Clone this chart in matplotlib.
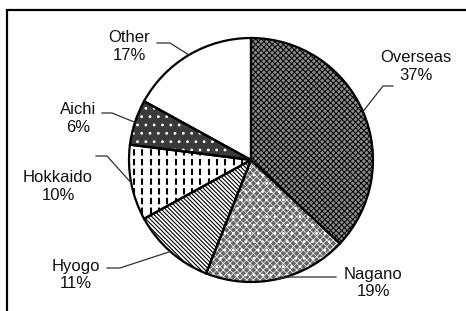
import numpy as np
import matplotlib.pyplot as plt
from matplotlib.patches import Wedge
from matplotlib.collections import LineCollection

plt.rcParams['lines.scale_dashes'] = False

# data
names = ['Overseas', 'Nagano', 'Hyogo', 'Hokkaido', 'Aichi', 'Other']
shares = [37, 19, 11, 10, 6, 17]

# fill styles
faces = ['#8a8a8a', '#666666', 'white', 'white', '#3a3a3a', 'white']

# label layout (pixel coords, y from top)
label_pos = [(416, 66), (373, 283), (76, 275), (58, 186), (78, 118), (129, 47)]
elbows = [(383, 86), (290, 277), (120, 268), (107, 156), (112, 113), (170, 43)]
ends = [(393, 86), (336, 277), (107, 268), (96, 156), (102, 113), (157, 43)]

W, H = 466, 311
fig = plt.figure(figsize=(4.66, 3.11), dpi=100)
ax = fig.add_axes([0, 0, 1, 1])

wedges, _ = ax.pie(shares, startangle=90, counterclock=False,
                   center=(251, H - 160), radius=122, colors=faces,
                   wedgeprops=dict(linewidth=0))
ax.set_xlim(0, W)
ax.set_ylim(0, H)
ax.axis('off')
cx, cy = wedges[0].center
R = wedges[0].r


def overlay(w, hatch, col, lw):
    p = Wedge(w.center, w.r, w.theta1, w.theta2, fill=False, hatch=hatch,
              edgecolor=col, linewidth=0)
    try:
        p.set_hatch_linewidth(lw)
    except AttributeError:
        pass
    ax.add_patch(p)


# Overseas: dark fine check
overlay(wedges[0], 'xxxxxx', 'black', 0.7)
# Nagano: grey check with white dots
overlay(wedges[1], 'xxxxx', 'white', 0.5)
overlay(wedges[1], '..', 'white', 0.8)
# Aichi: white dots on dark
overlay(wedges[4], '..', 'white', 0.8)

# Hyogo: diagonal lines
segs = []
for c in np.arange(-2 * R, 2 * R, 4.2):
    x0, x1 = cx - R, cx + R
    segs.append([(x0, cy + c + R), (x1, cy + c - R)])
lc = LineCollection(segs, colors='black', linewidths=0.8)
ax.add_collection(lc)
lc.set_clip_path(wedges[2])

# Hokkaido: vertical dashed lines
segs = [[(x, cy - R), (x, cy + R)] for x in np.arange(cx - R + 5, cx, 8.3)]
lc = LineCollection(segs, colors='black', linewidths=1.5,
                    linestyles=[(0, (4.6, 2.4))])
ax.add_collection(lc)
lc.set_clip_path(wedges[3])

for w in wedges:
    ax.add_patch(Wedge(w.center, w.r, w.theta1, w.theta2, fill=False,
                       edgecolor='black', linewidth=1.6))

# leader lines + labels
for w, name, pct, (lx, ly), (ex, ey), (nx, ny) in zip(
        wedges, names, shares, label_pos, elbows, ends):
    mid = np.deg2rad((w.theta1 + w.theta2) / 2)
    sx = w.center[0] + w.r * np.cos(mid)
    sy = w.center[1] + w.r * np.sin(mid)
    ax.plot([sx, ex, nx], [sy, H - ey, H - ny], color='#303030', lw=0.9)
    ax.text(lx, H - ly, f'{name}\n{pct}%', ha='center', va='center',
            fontsize=12, family='Liberation Sans', linespacing=1.25,
            color='#111111')

# frame
ax.plot([7, 7, W], [0, H - 10, H - 10], color='black', lw=1.6,
        solid_joinstyle='miter')

fig.savefig('out.png', dpi=100)
